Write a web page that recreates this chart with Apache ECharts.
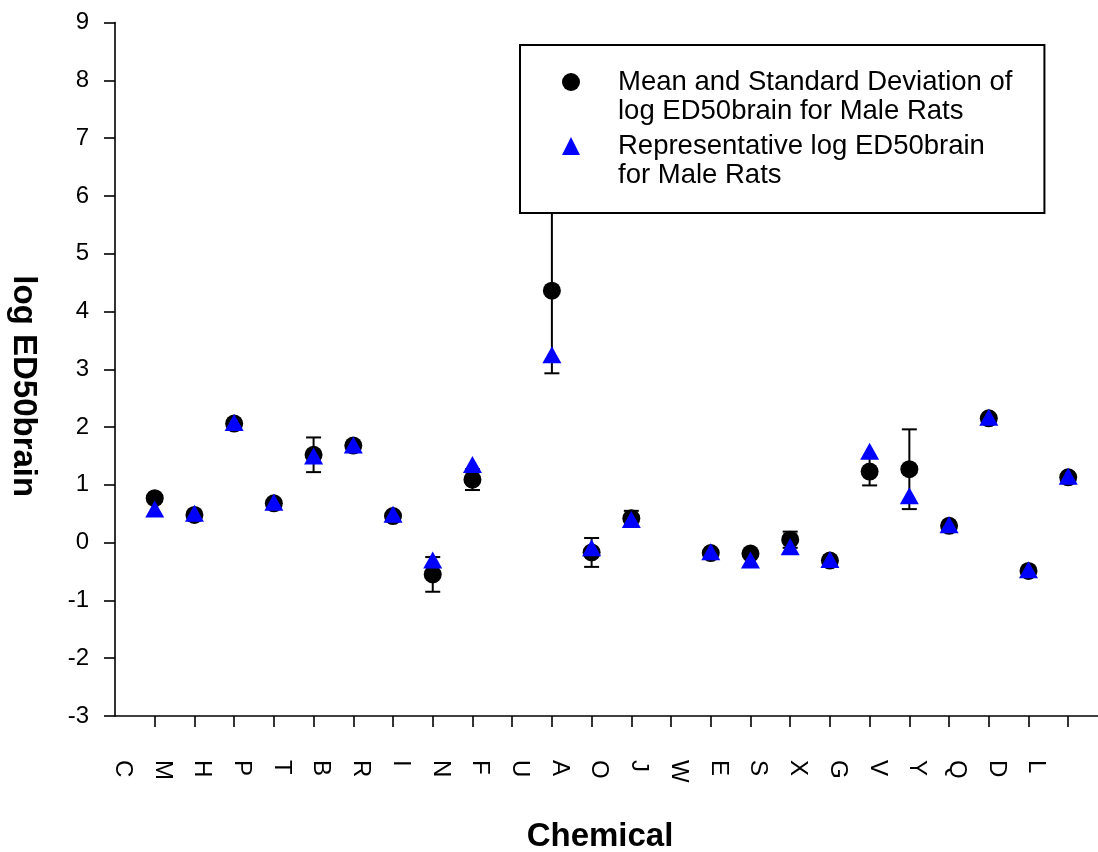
<!DOCTYPE html>
<html>
<head>
<meta charset="utf-8">
<script src="https://cdn.jsdelivr.net/npm/echarts@6/dist/echarts.min.js"></script>
<style>
  html, body { margin: 0; padding: 0; background: #fff; }
  #chart { width: 1098px; height: 852px; }
</style>
</head>
<body>
<div id="chart"></div>
<script>
// Chemical codes along the x axis (one per slot, starting at the value axis)
const categories = ['C', 'M', 'H', 'P', 'T', 'B', 'R', 'I', 'N', 'F', 'U', 'A',
                    'O', 'J', 'W', 'E', 'S', 'X', 'G', 'V', 'Y', 'Q', 'D', 'L'];

// Measured values, one entry per plotted slot 1..24 (null = no measurement)
const meanLogED50 = [0.77, 0.48, 2.06, 0.68, 1.52, 1.68, 0.46, -0.55, 1.09, null, 4.36, -0.17,
                     0.42, null, -0.18, -0.19, 0.05, -0.31, 1.23, 1.27, 0.29, 2.15, -0.49, 1.13];
const sdLogED50 = [0.05, 0.05, 0.05, 0.05, 0.30, 0.05, 0.05, 0.30, 0.18, null, 1.43, 0.25,
                   0.13, null, 0.05, 0.05, 0.14, 0.05, 0.24, 0.69, 0.05, 0.05, 0.05, 0.05];
const representativeLogED50 = [0.58, 0.51, 2.08, 0.70, 1.50, 1.69, 0.49, -0.30, 1.35, null, 3.25, -0.09,
                               0.40, null, -0.16, -0.30, -0.07, -0.29, 1.58, 0.81, 0.31, 2.17, -0.47, 1.15];

const yTicks = { min: -3, max: 9, step: 1 };

const meanName = 'Mean and Standard Deviation of\nlog ED50brain for Male Rats';
const repName = 'Representative log ED50brain\nfor Male Rats';

const FONT = '"Liberation Sans", Arial, Helvetica, sans-serif';

const meanPoints = [];
const errPoints = [];
const repPoints = [];
meanLogED50.forEach((v, i) => {
  if (v == null) return;
  meanPoints.push([i + 1, v]);
  errPoints.push([i + 1, v - sdLogED50[i], v + sdLogED50[i]]);
});
representativeLogED50.forEach((v, i) => {
  if (v != null) repPoints.push([i + 1, v]);
});

const chart = echarts.init(document.getElementById('chart'), null, { renderer: 'canvas' });

chart.setOption({
  animation: false,
  backgroundColor: '#fff',
  textStyle: { fontFamily: FONT, color: '#000' },
  grid: { left: 115, right: 0, top: 22.5, bottom: 136, containLabel: false, outerBoundsMode: 'none' },
  xAxis: {
    type: 'value',
    min: 0,
    max: 24.75,
    interval: 1,
    name: 'Chemical',
    nameLocation: 'middle',
    nameGap: 104,
    nameTextStyle: { fontFamily: FONT, fontSize: 33, fontWeight: 'bold', color: '#000', padding: [0, 13, 0, 0] },
    splitLine: { show: false },
    axisLine: { onZero: false, lineStyle: { color: '#000', width: 1.6 } },
    axisTick: {
      length: 11,
      lineStyle: { color: '#000', width: 1.6 },
      customValues: categories.map((c, i) => i + 1)
    },
    axisLabel: {
      rotate: -90,
      margin: 44,
      fontFamily: FONT,
      fontSize: 24,
      lineHeight: 15,
      verticalAlign: 'bottom',
      color: '#000',
      customValues: categories.map((c, i) => i),
      formatter: v => categories[Math.round(v)] || ''
    }
  },
  yAxis: {
    type: 'value',
    min: yTicks.min,
    max: yTicks.max,
    interval: yTicks.step,
    name: 'log ED50brain',
    nameLocation: 'middle',
    nameRotate: -90,
    nameGap: 75,
    nameTextStyle: { fontFamily: FONT, fontSize: 33, fontWeight: 'bold', color: '#000', padding: [0, 0, 0, 34] },
    splitLine: { show: false },
    axisLine: { show: true, lineStyle: { color: '#000', width: 1.6 } },
    axisTick: { show: true, length: 11, lineStyle: { color: '#000', width: 1.6 } },
    axisLabel: { margin: 26, fontFamily: FONT, fontSize: 24, color: '#000' }
  },
  legend: {
    orient: 'vertical',
    left: 520,
    top: 45,
    padding: [-6.5, 32, 23.5, 42],
    itemWidth: 18,
    itemHeight: 18,
    itemGap: -23,
    symbolKeepAspect: true,
    backgroundColor: '#fff',
    borderColor: '#000',
    borderWidth: 2,
    borderRadius: 0,
    selectedMode: false,
    z: 10,
    data: [
      { name: meanName, icon: 'circle' },
      { name: repName, icon: 'triangle' }
    ],
    formatter: name => '\n' + name,
    textStyle: { fontFamily: FONT, fontSize: 27.5, lineHeight: 29, color: '#000', padding: [0, 0, 0, 33] }
  },
  series: [
    {
      name: 'Standard deviation',
      type: 'custom',
      z: 1,
      silent: true,
      itemStyle: { color: '#000' },
      data: errPoints,
      encode: { x: 0, y: [1, 2] },
      renderItem: (params, api) => {
        const x = api.value(0);
        const top = api.coord([x, api.value(2)]);
        const bot = api.coord([x, api.value(1)]);
        const hw = 7.5;
        const st = { stroke: '#000', lineWidth: 2 };
        return {
          type: 'group',
          children: [
            { type: 'line', shape: { x1: top[0], y1: top[1], x2: bot[0], y2: bot[1] }, style: st },
            { type: 'line', shape: { x1: top[0] - hw, y1: top[1], x2: top[0] + hw, y2: top[1] }, style: st },
            { type: 'line', shape: { x1: bot[0] - hw, y1: bot[1], x2: bot[0] + hw, y2: bot[1] }, style: st }
          ]
        };
      }
    },
    {
      name: meanName,
      type: 'scatter',
      z: 2,
      symbol: 'circle',
      symbolSize: 18,
      itemStyle: { color: '#000', opacity: 1 },
      emphasis: { disabled: true },
      data: meanPoints
    },
    {
      name: repName,
      type: 'scatter',
      z: 3,
      symbol: 'triangle',
      symbolSize: [19, 17],
      itemStyle: { color: '#0000ff', opacity: 1 },
      emphasis: { disabled: true },
      data: repPoints
    }
  ]
});
</script>
</body>
</html>
